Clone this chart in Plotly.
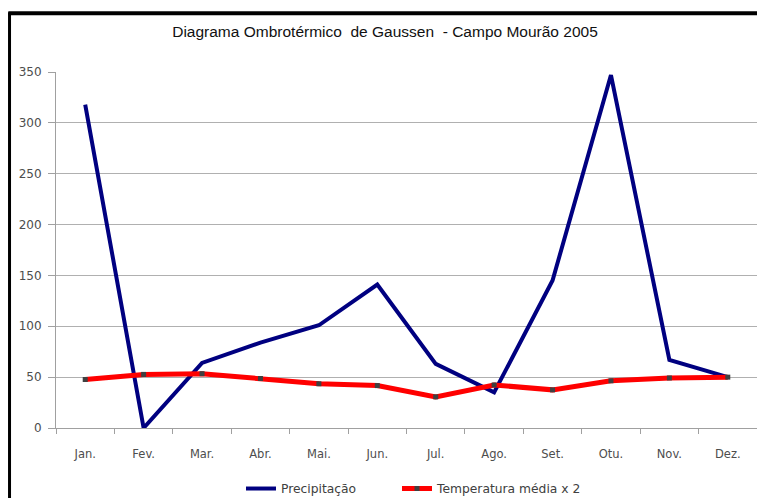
import plotly.graph_objects as go

months = ["Jan.", "Fev.", "Mar.", "Abr.", "Mai.", "Jun.", "Jul.", "Ago.", "Set.", "Otu.", "Nov.", "Dez."]
precipitacao = [318, 0, 64, 84, 101, 141, 63, 35, 145, 347, 67, 50]
temperatura_x2 = [47.7, 52.7, 53.4, 48.7, 43.5, 41.7, 30.6, 42.3, 37.5, 46.4, 49.2, 50]
y_ticks = [0, 50, 100, 150, 200, 250, 300, 350]

fig = go.Figure()
fig.add_trace(go.Scatter(
    x=months, y=precipitacao, mode="lines", name="Precipitação",
    line=dict(color="#000080", width=4), legend="legend",
))
fig.add_trace(go.Scatter(
    x=months, y=temperatura_x2, mode="lines+markers", name="Temperatura média x 2",
    line=dict(color="#ff0000", width=5),
    marker=dict(symbol="square", size=5, color="#404040"), legend="legend2",
))

# chart frame (black border on top and left)
fig.add_shape(type="line", xref="paper", yref="paper", x0=-0.0663, x1=-0.0663, y0=-0.25, y1=1.168,
              line=dict(color="black", width=3))
fig.add_shape(type="line", xref="paper", yref="paper", x0=-0.068, x1=1.01, y0=1.165, y1=1.165,
              line=dict(color="black", width=4))

legend_style = dict(orientation="h", y=-0.17, yanchor="middle", xanchor="left",
                    font=dict(family="DejaVu Sans", size=12.3, color="#404040"),
                    itemwidth=30, bgcolor="rgba(0,0,0,0)")

fig.update_layout(
    width=757, height=498,
    margin=dict(l=56, r=0, t=72, b=70, autoexpand=False),
    paper_bgcolor="white", plot_bgcolor="white",
    title=dict(text="Diagrama Ombrotérmico  de Gaussen  - Campo Mourão 2005",
               x=385 / 757, xref="container", xanchor="center", y=1 - 32 / 498, yanchor="middle",
               font=dict(family="Liberation Sans, Arial", size=15.5, color="#111111")),
    font=dict(family="DejaVu Sans", size=11, color="#4d4d4d"),
    showlegend=True,
    legend=dict(x=(241 - 56) / 701, **legend_style),
    legend2=dict(x=(397 - 56) / 701, **legend_style),
    xaxis=dict(type="category", range=[-0.5, 11.5], tickson="boundaries",
               ticks="outside", ticklen=5, tickcolor="#a0a0a0", ticklabelstandoff=15,
               tickfont=dict(size=11.5),
               showline=True, linecolor="#a0a0a0", linewidth=1,
               showgrid=False, zeroline=False),
    yaxis=dict(range=[0, 350], tickvals=y_ticks, ticks="outside", ticklen=7, tickcolor="#a0a0a0",
               ticklabelstandoff=4, tickfont=dict(size=12),
               showline=True, linecolor="#a0a0a0", linewidth=1,
               showgrid=True, gridcolor="#b0b0b0", gridwidth=1, zeroline=False),
)

fig.write_html("out.html", config={"displayModeBar": False},
               post_script="document.body.style.margin='0px';document.body.style.overflow='hidden';")
